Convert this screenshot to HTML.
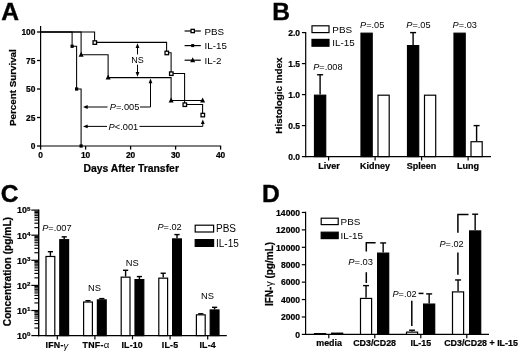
<!DOCTYPE html>
<html lang="en"><head><meta charset="utf-8"><title>Figure</title>
<style>
html,body{margin:0;padding:0;background:#fff;}
body{width:520px;height:352px;overflow:hidden;}
svg{display:block;font-family:"Liberation Sans",Arial,Helvetica,sans-serif;}
svg text{fill:#000;stroke:none;}
svg text[font-weight="bold"]{stroke:#000;stroke-width:0.22px;}
svg text tspan.g{stroke:none;font-weight:normal;}
</style></head><body>
<svg width="520" height="352" viewBox="0 0 520 352">
<rect x="0" y="0" width="520" height="352" fill="#fff" stroke="none"/>
<defs><filter id="soft" x="0" y="0" width="520" height="352" filterUnits="userSpaceOnUse"><feGaussianBlur stdDeviation="0.3"/></filter></defs>
<g stroke="#000" filter="url(#soft)">
<text x="1.20" y="19.50" font-size="24.6" font-weight="bold" text-anchor="start" style="stroke:#000;stroke-width:0.4">A</text>
<text x="272.30" y="19.50" font-size="24.6" font-weight="bold" text-anchor="start" style="stroke:#000;stroke-width:0.4">B</text>
<text x="0.70" y="202.40" font-size="24.6" font-weight="bold" text-anchor="start" style="stroke:#000;stroke-width:0.4">C</text>
<text x="262.00" y="202.40" font-size="24.6" font-weight="bold" text-anchor="start" style="stroke:#000;stroke-width:0.4">D</text>
<line x1="40.60" y1="26.00" x2="40.60" y2="146.60" stroke-width="1.2" />
<line x1="40.00" y1="146.00" x2="221.20" y2="146.00" stroke-width="1.2" />
<line x1="37.00" y1="146.00" x2="40.60" y2="146.00" stroke-width="1.3" />
<text x="35.40" y="149.00" font-size="8.4" font-weight="bold" text-anchor="end" >0</text>
<line x1="37.00" y1="117.50" x2="40.60" y2="117.50" stroke-width="1.3" />
<text x="35.40" y="120.50" font-size="8.4" font-weight="bold" text-anchor="end" >25</text>
<line x1="37.00" y1="89.00" x2="40.60" y2="89.00" stroke-width="1.3" />
<text x="35.40" y="92.00" font-size="8.4" font-weight="bold" text-anchor="end" >50</text>
<line x1="37.00" y1="60.50" x2="40.60" y2="60.50" stroke-width="1.3" />
<text x="35.40" y="63.50" font-size="8.4" font-weight="bold" text-anchor="end" >75</text>
<line x1="37.00" y1="32.00" x2="40.60" y2="32.00" stroke-width="1.3" />
<text x="35.40" y="35.00" font-size="8.4" font-weight="bold" text-anchor="end" >100</text>
<line x1="40.60" y1="146.00" x2="40.60" y2="149.60" stroke-width="1.3" />
<text x="40.60" y="158.30" font-size="8.4" font-weight="bold" text-anchor="middle" >0</text>
<line x1="85.60" y1="146.00" x2="85.60" y2="149.60" stroke-width="1.3" />
<text x="85.60" y="158.30" font-size="8.4" font-weight="bold" text-anchor="middle" >10</text>
<line x1="130.60" y1="146.00" x2="130.60" y2="149.60" stroke-width="1.3" />
<text x="130.60" y="158.30" font-size="8.4" font-weight="bold" text-anchor="middle" >20</text>
<line x1="175.60" y1="146.00" x2="175.60" y2="149.60" stroke-width="1.3" />
<text x="175.60" y="158.30" font-size="8.4" font-weight="bold" text-anchor="middle" >30</text>
<line x1="220.60" y1="146.00" x2="220.60" y2="149.60" stroke-width="1.3" />
<text x="220.60" y="158.30" font-size="8.4" font-weight="bold" text-anchor="middle" >40</text>
<text x="131.20" y="172.40" font-size="10.4" font-weight="bold" text-anchor="middle" >Days After Transfer</text>
<text transform="translate(15.90,87.60) rotate(-90)" font-size="9.8" font-weight="bold" text-anchor="middle">Percent Survival</text>
<path d="M40.60 32.00 H81.10 V54.80 H108.10 V77.60 H171.10 V100.40 H202.60 V100.40" stroke-width="1.05" fill="none" />
<path d="M40.60 32.00 H72.10 V46.25 H76.60 V89.00 H81.10 V146.00" stroke-width="1.05" fill="none" />
<path d="M40.60 32.00 H94.60 V42.37 H166.60 V52.75 H171.10 V73.50 H184.60 V104.50 H202.60 V114.88" stroke-width="1.05" fill="none" />
<path d="M81.10 51.80 L83.60 56.80 L78.60 56.80 Z" fill="#000" stroke="none"/>
<path d="M108.10 74.60 L110.60 79.60 L105.60 79.60 Z" fill="#000" stroke="none"/>
<path d="M171.10 97.40 L173.60 102.40 L168.60 102.40 Z" fill="#000" stroke="none"/>
<path d="M202.60 97.40 L205.10 102.40 L200.10 102.40 Z" fill="#000" stroke="none"/>
<rect x="71.00" y="45.15" width="2.2" height="2.2" fill="#000" stroke="#000" stroke-width="1"/>
<rect x="75.50" y="87.90" width="2.2" height="2.2" fill="#000" stroke="#000" stroke-width="1"/>
<rect x="80.00" y="144.90" width="2.2" height="2.2" fill="#000" stroke="#000" stroke-width="1"/>
<rect x="93.05" y="40.82" width="3.5" height="3.5" fill="#fff" stroke="#000" stroke-width="1.3"/>
<rect x="165.05" y="51.20" width="3.5" height="3.5" fill="#fff" stroke="#000" stroke-width="1.3"/>
<rect x="169.55" y="71.95" width="3.5" height="3.5" fill="#fff" stroke="#000" stroke-width="1.3"/>
<rect x="183.05" y="102.95" width="3.5" height="3.5" fill="#fff" stroke="#000" stroke-width="1.3"/>
<rect x="201.05" y="113.33" width="3.5" height="3.5" fill="#fff" stroke="#000" stroke-width="1.3"/>
<line x1="184.60" y1="31.00" x2="200.80" y2="31.00" stroke-width="1.2" />
<rect x="191.05" y="29.35" width="3.3" height="3.3" fill="#fff" stroke="#000" stroke-width="1.3"/>
<text x="204.50" y="34.50" font-size="9.8" font-weight="normal" text-anchor="start" >PBS</text>
<line x1="184.60" y1="45.60" x2="200.80" y2="45.60" stroke-width="1.2" />
<rect x="191.70" y="44.60" width="2.0" height="2.0" fill="#000" stroke="#000" stroke-width="1"/>
<text x="204.50" y="49.10" font-size="9.8" font-weight="normal" text-anchor="start" >IL-15</text>
<line x1="184.60" y1="60.20" x2="200.80" y2="60.20" stroke-width="1.2" />
<path d="M192.70 57.20 L195.20 62.20 L190.20 62.20 Z" fill="#000" stroke="none"/>
<text x="204.50" y="63.70" font-size="9.8" font-weight="normal" text-anchor="start" >IL-2</text>
<line x1="137.50" y1="45.00" x2="137.50" y2="54.40" stroke-width="1.0" />
<path d="M137.5 43.2 L135.6 47.900000000000006 L139.4 47.900000000000006 Z" fill="#000" stroke="none"/>
<line x1="137.50" y1="64.70" x2="137.50" y2="75.00" stroke-width="1.0" />
<path d="M137.5 76.8 L135.6 72.1 L139.4 72.1 Z" fill="#000" stroke="none"/>
<text x="137.50" y="62.70" font-size="9.0" font-weight="normal" text-anchor="middle" >NS</text>
<line x1="85.00" y1="107.00" x2="107.50" y2="107.00" stroke-width="1.0" />
<path d="M83.0 107.0 L87.7 105.1 L87.7 108.9 Z" fill="#000" stroke="none"/>
<text x="109.80" y="110.30" font-size="9.25" font-weight="normal" text-anchor="start"><tspan font-style="italic">P</tspan>=.005</text>
<path d="M140 107 H150.5 V81" stroke-width="1.0" fill="none" />
<path d="M150.5 78.6 L148.6 83.3 L152.4 83.3 Z" fill="#000" stroke="none"/>
<line x1="85.00" y1="126.40" x2="107.00" y2="126.40" stroke-width="1.0" />
<path d="M83.0 126.4 L87.7 124.5 L87.7 128.3 Z" fill="#000" stroke="none"/>
<text x="108.60" y="129.70" font-size="9.25" font-weight="normal" text-anchor="start"><tspan font-style="italic">P</tspan>&lt;.001</text>
<path d="M139.5 126.4 H202.8 V122" stroke-width="1.0" fill="none" />
<path d="M202.8 119.4 L200.9 124.10000000000001 L204.70000000000002 124.10000000000001 Z" fill="#000" stroke="none"/>
<line x1="305.70" y1="32.00" x2="305.70" y2="157.20" stroke-width="1.2" />
<line x1="305.10" y1="156.60" x2="491.00" y2="156.60" stroke-width="1.2" />
<line x1="301.90" y1="156.60" x2="305.70" y2="156.60" stroke-width="1.2" />
<text x="300.10" y="159.60" font-size="8.5" font-weight="bold" text-anchor="end" >0.0</text>
<line x1="301.90" y1="125.60" x2="305.70" y2="125.60" stroke-width="1.2" />
<text x="300.10" y="128.60" font-size="8.5" font-weight="bold" text-anchor="end" >0.5</text>
<line x1="301.90" y1="94.60" x2="305.70" y2="94.60" stroke-width="1.2" />
<text x="300.10" y="97.60" font-size="8.5" font-weight="bold" text-anchor="end" >1.0</text>
<line x1="301.90" y1="63.60" x2="305.70" y2="63.60" stroke-width="1.2" />
<text x="300.10" y="66.60" font-size="8.5" font-weight="bold" text-anchor="end" >1.5</text>
<line x1="301.90" y1="32.60" x2="305.70" y2="32.60" stroke-width="1.2" />
<text x="300.10" y="35.60" font-size="8.5" font-weight="bold" text-anchor="end" >2.0</text>
<text transform="translate(281.90,95.60) rotate(-90)" font-size="9.9" font-weight="bold" text-anchor="middle">Histologic Index</text>
<line x1="320.10" y1="94.60" x2="320.10" y2="74.76" stroke-width="1.4" />
<line x1="317.10" y1="74.76" x2="323.10" y2="74.76" stroke-width="1.4" />
<rect x="314.50" y="95.20" width="11.20" height="61.40" fill="#000" stroke="#000" stroke-width="1.2"/>
<line x1="328.60" y1="156.60" x2="328.60" y2="160.40" stroke-width="1.2" />
<text x="328.90" y="168.80" font-size="9.0" font-weight="bold" text-anchor="middle" >Liver</text>
<rect x="361.00" y="33.20" width="11.20" height="123.40" fill="#000" stroke="#000" stroke-width="1.2"/>
<rect x="378.00" y="95.20" width="11.20" height="61.40" fill="#fff" stroke="#000" stroke-width="1.2"/>
<line x1="375.10" y1="156.60" x2="375.10" y2="160.40" stroke-width="1.2" />
<text x="375.10" y="168.80" font-size="9.0" font-weight="bold" text-anchor="middle" >Kidney</text>
<line x1="413.10" y1="45.00" x2="413.10" y2="32.60" stroke-width="1.4" />
<line x1="410.10" y1="32.60" x2="416.10" y2="32.60" stroke-width="1.4" />
<rect x="407.50" y="45.60" width="11.20" height="111.00" fill="#000" stroke="#000" stroke-width="1.2"/>
<rect x="424.50" y="95.20" width="11.20" height="61.40" fill="#fff" stroke="#000" stroke-width="1.2"/>
<line x1="421.60" y1="156.60" x2="421.60" y2="160.40" stroke-width="1.2" />
<text x="421.60" y="168.80" font-size="9.0" font-weight="bold" text-anchor="middle" >Spleen</text>
<line x1="476.60" y1="141.10" x2="476.60" y2="125.60" stroke-width="1.4" />
<line x1="473.60" y1="125.60" x2="479.60" y2="125.60" stroke-width="1.4" />
<rect x="454.00" y="33.20" width="11.20" height="123.40" fill="#000" stroke="#000" stroke-width="1.2"/>
<rect x="471.00" y="141.70" width="11.20" height="14.90" fill="#fff" stroke="#000" stroke-width="1.2"/>
<line x1="468.10" y1="156.60" x2="468.10" y2="160.40" stroke-width="1.2" />
<text x="468.10" y="168.80" font-size="9.0" font-weight="bold" text-anchor="middle" >Lung</text>
<text x="313.20" y="70.00" font-size="9.2" font-weight="normal" text-anchor="start"><tspan font-style="italic">P</tspan>=.008</text>
<text x="360.00" y="28.00" font-size="9.2" font-weight="normal" text-anchor="start"><tspan font-style="italic">P</tspan>=.05</text>
<text x="406.30" y="28.00" font-size="9.2" font-weight="normal" text-anchor="start"><tspan font-style="italic">P</tspan>=.05</text>
<text x="452.60" y="28.00" font-size="9.2" font-weight="normal" text-anchor="start"><tspan font-style="italic">P</tspan>=.03</text>
<rect x="312.00" y="25.80" width="17.00" height="6.80" fill="#fff" stroke="#000" stroke-width="1.2"/>
<text x="332.30" y="32.50" font-size="9.9" font-weight="normal" text-anchor="start" >PBS</text>
<rect x="312.00" y="39.40" width="17.00" height="6.80" fill="#000" stroke="#000" stroke-width="1.2"/>
<text x="332.30" y="46.40" font-size="9.9" font-weight="normal" text-anchor="start" >IL-15</text>
<line x1="38.70" y1="209.50" x2="38.70" y2="336.20" stroke-width="1.4" />
<line x1="38.00" y1="335.60" x2="226.80" y2="335.60" stroke-width="1.2" />
<line x1="31.30" y1="335.60" x2="38.70" y2="335.60" stroke-width="1.2" />
<text x="30.40" y="338.90" font-size="8.9" font-weight="bold" text-anchor="end">10<tspan font-size="6.2" dy="-2.9">0</tspan></text>
<line x1="34.40" y1="328.04" x2="38.70" y2="328.04" stroke-width="1.15" />
<line x1="34.40" y1="323.62" x2="38.70" y2="323.62" stroke-width="1.15" />
<line x1="34.40" y1="320.49" x2="38.70" y2="320.49" stroke-width="1.15" />
<line x1="34.40" y1="318.06" x2="38.70" y2="318.06" stroke-width="1.15" />
<line x1="34.40" y1="316.07" x2="38.70" y2="316.07" stroke-width="1.15" />
<line x1="34.40" y1="314.39" x2="38.70" y2="314.39" stroke-width="1.15" />
<line x1="34.40" y1="312.93" x2="38.70" y2="312.93" stroke-width="1.15" />
<line x1="34.40" y1="311.65" x2="38.70" y2="311.65" stroke-width="1.15" />
<line x1="31.30" y1="310.50" x2="38.70" y2="310.50" stroke-width="1.2" />
<text x="30.40" y="313.80" font-size="8.9" font-weight="bold" text-anchor="end">10<tspan font-size="6.2" dy="-2.9">1</tspan></text>
<line x1="34.40" y1="302.94" x2="38.70" y2="302.94" stroke-width="1.15" />
<line x1="34.40" y1="298.52" x2="38.70" y2="298.52" stroke-width="1.15" />
<line x1="34.40" y1="295.39" x2="38.70" y2="295.39" stroke-width="1.15" />
<line x1="34.40" y1="292.96" x2="38.70" y2="292.96" stroke-width="1.15" />
<line x1="34.40" y1="290.97" x2="38.70" y2="290.97" stroke-width="1.15" />
<line x1="34.40" y1="289.29" x2="38.70" y2="289.29" stroke-width="1.15" />
<line x1="34.40" y1="287.83" x2="38.70" y2="287.83" stroke-width="1.15" />
<line x1="34.40" y1="286.55" x2="38.70" y2="286.55" stroke-width="1.15" />
<line x1="31.30" y1="285.40" x2="38.70" y2="285.40" stroke-width="1.2" />
<text x="30.40" y="288.70" font-size="8.9" font-weight="bold" text-anchor="end">10<tspan font-size="6.2" dy="-2.9">2</tspan></text>
<line x1="34.40" y1="277.84" x2="38.70" y2="277.84" stroke-width="1.15" />
<line x1="34.40" y1="273.42" x2="38.70" y2="273.42" stroke-width="1.15" />
<line x1="34.40" y1="270.29" x2="38.70" y2="270.29" stroke-width="1.15" />
<line x1="34.40" y1="267.86" x2="38.70" y2="267.86" stroke-width="1.15" />
<line x1="34.40" y1="265.87" x2="38.70" y2="265.87" stroke-width="1.15" />
<line x1="34.40" y1="264.19" x2="38.70" y2="264.19" stroke-width="1.15" />
<line x1="34.40" y1="262.73" x2="38.70" y2="262.73" stroke-width="1.15" />
<line x1="34.40" y1="261.45" x2="38.70" y2="261.45" stroke-width="1.15" />
<line x1="31.30" y1="260.30" x2="38.70" y2="260.30" stroke-width="1.2" />
<text x="30.40" y="263.60" font-size="8.9" font-weight="bold" text-anchor="end">10<tspan font-size="6.2" dy="-2.9">3</tspan></text>
<line x1="34.40" y1="252.74" x2="38.70" y2="252.74" stroke-width="1.15" />
<line x1="34.40" y1="248.32" x2="38.70" y2="248.32" stroke-width="1.15" />
<line x1="34.40" y1="245.19" x2="38.70" y2="245.19" stroke-width="1.15" />
<line x1="34.40" y1="242.76" x2="38.70" y2="242.76" stroke-width="1.15" />
<line x1="34.40" y1="240.77" x2="38.70" y2="240.77" stroke-width="1.15" />
<line x1="34.40" y1="239.09" x2="38.70" y2="239.09" stroke-width="1.15" />
<line x1="34.40" y1="237.63" x2="38.70" y2="237.63" stroke-width="1.15" />
<line x1="34.40" y1="236.35" x2="38.70" y2="236.35" stroke-width="1.15" />
<line x1="31.30" y1="235.20" x2="38.70" y2="235.20" stroke-width="1.2" />
<text x="30.40" y="238.50" font-size="8.9" font-weight="bold" text-anchor="end">10<tspan font-size="6.2" dy="-2.9">4</tspan></text>
<line x1="34.40" y1="227.64" x2="38.70" y2="227.64" stroke-width="1.15" />
<line x1="34.40" y1="223.22" x2="38.70" y2="223.22" stroke-width="1.15" />
<line x1="34.40" y1="220.09" x2="38.70" y2="220.09" stroke-width="1.15" />
<line x1="34.40" y1="217.66" x2="38.70" y2="217.66" stroke-width="1.15" />
<line x1="34.40" y1="215.67" x2="38.70" y2="215.67" stroke-width="1.15" />
<line x1="34.40" y1="213.99" x2="38.70" y2="213.99" stroke-width="1.15" />
<line x1="34.40" y1="212.53" x2="38.70" y2="212.53" stroke-width="1.15" />
<line x1="34.40" y1="211.25" x2="38.70" y2="211.25" stroke-width="1.15" />
<line x1="31.30" y1="210.10" x2="38.70" y2="210.10" stroke-width="1.2" />
<text x="30.40" y="213.40" font-size="8.9" font-weight="bold" text-anchor="end">10<tspan font-size="6.2" dy="-2.9">5</tspan></text>
<text transform="translate(11.20,271.60) rotate(-90)" font-size="10.2" font-weight="bold" text-anchor="middle">Concentration (pg/mL)</text>
<line x1="50.40" y1="255.88" x2="50.40" y2="251.71" stroke-width="1.4" />
<line x1="47.80" y1="251.71" x2="53.00" y2="251.71" stroke-width="1.4" />
<line x1="64.20" y1="239.09" x2="64.20" y2="236.84" stroke-width="1.4" />
<line x1="61.60" y1="236.84" x2="66.80" y2="236.84" stroke-width="1.4" />
<rect x="46.00" y="256.48" width="8.80" height="79.12" fill="#fff" stroke="#000" stroke-width="1.2"/>
<rect x="59.80" y="239.69" width="8.80" height="95.91" fill="#000" stroke="#000" stroke-width="1.2"/>
<line x1="57.30" y1="335.60" x2="57.30" y2="339.40" stroke-width="1.2" />
<text x="45.50" y="348.20" font-size="8.8" font-weight="bold" text-anchor="start" letter-spacing="0.25">IFN-<tspan class="g" font-size="9.5" font-style="italic" dy="0.8">&#947;</tspan></text>
<line x1="88.00" y1="301.42" x2="88.00" y2="300.69" stroke-width="1.4" />
<line x1="85.40" y1="300.69" x2="90.60" y2="300.69" stroke-width="1.4" />
<line x1="101.80" y1="299.28" x2="101.80" y2="298.60" stroke-width="1.4" />
<line x1="99.20" y1="298.60" x2="104.40" y2="298.60" stroke-width="1.4" />
<rect x="83.60" y="302.02" width="8.80" height="33.58" fill="#fff" stroke="#000" stroke-width="1.2"/>
<rect x="97.40" y="299.88" width="8.80" height="35.72" fill="#000" stroke="#000" stroke-width="1.2"/>
<line x1="94.90" y1="335.60" x2="94.90" y2="339.40" stroke-width="1.2" />
<text x="82.60" y="348.20" font-size="8.8" font-weight="bold" text-anchor="start" letter-spacing="0.25">TNF-<tspan class="g" font-size="9.6" dy="0.2">&#945;</tspan></text>
<line x1="125.60" y1="276.56" x2="125.60" y2="270.29" stroke-width="1.4" />
<line x1="123.00" y1="270.29" x2="128.20" y2="270.29" stroke-width="1.4" />
<line x1="139.40" y1="278.99" x2="139.40" y2="276.56" stroke-width="1.4" />
<line x1="136.80" y1="276.56" x2="142.00" y2="276.56" stroke-width="1.4" />
<rect x="121.20" y="277.16" width="8.80" height="58.44" fill="#fff" stroke="#000" stroke-width="1.2"/>
<rect x="135.00" y="279.59" width="8.80" height="56.01" fill="#000" stroke="#000" stroke-width="1.2"/>
<line x1="132.50" y1="335.60" x2="132.50" y2="339.40" stroke-width="1.2" />
<text x="132.20" y="348.20" font-size="8.8" font-weight="bold" text-anchor="middle" letter-spacing="0.2">IL-10</text>
<line x1="163.20" y1="277.57" x2="163.20" y2="273.24" stroke-width="1.4" />
<line x1="160.60" y1="273.24" x2="165.80" y2="273.24" stroke-width="1.4" />
<line x1="177.00" y1="238.31" x2="177.00" y2="234.60" stroke-width="1.4" />
<line x1="174.40" y1="234.60" x2="179.60" y2="234.60" stroke-width="1.4" />
<rect x="158.80" y="278.17" width="8.80" height="57.43" fill="#fff" stroke="#000" stroke-width="1.2"/>
<rect x="172.60" y="238.91" width="8.80" height="96.69" fill="#000" stroke="#000" stroke-width="1.2"/>
<line x1="170.10" y1="335.60" x2="170.10" y2="339.40" stroke-width="1.2" />
<text x="170.10" y="348.20" font-size="8.8" font-weight="bold" text-anchor="middle" letter-spacing="0.2">IL-5</text>
<line x1="200.80" y1="314.23" x2="200.80" y2="313.78" stroke-width="1.4" />
<line x1="198.20" y1="313.78" x2="203.40" y2="313.78" stroke-width="1.4" />
<line x1="214.60" y1="309.36" x2="214.60" y2="307.31" stroke-width="1.4" />
<line x1="212.00" y1="307.31" x2="217.20" y2="307.31" stroke-width="1.4" />
<rect x="196.40" y="314.83" width="8.80" height="20.77" fill="#fff" stroke="#000" stroke-width="1.2"/>
<rect x="210.20" y="309.96" width="8.80" height="25.64" fill="#000" stroke="#000" stroke-width="1.2"/>
<line x1="207.70" y1="335.60" x2="207.70" y2="339.40" stroke-width="1.2" />
<text x="207.70" y="348.20" font-size="8.8" font-weight="bold" text-anchor="middle" letter-spacing="0.2">IL-4</text>
<text x="42.20" y="230.80" font-size="9.2" font-weight="normal" text-anchor="start"><tspan font-style="italic">P</tspan>=.007</text>
<text x="157.40" y="230.40" font-size="9.2" font-weight="normal" text-anchor="start"><tspan font-style="italic">P</tspan>=.02</text>
<text x="94.50" y="291.20" font-size="9.3" font-weight="normal" text-anchor="middle" >NS</text>
<text x="132.20" y="265.70" font-size="9.3" font-weight="normal" text-anchor="middle" >NS</text>
<text x="207.40" y="298.70" font-size="9.3" font-weight="normal" text-anchor="middle" >NS</text>
<rect x="195.20" y="225.20" width="18.40" height="6.80" fill="#fff" stroke="#000" stroke-width="1.2"/>
<text x="216.00" y="232.20" font-size="10.0" font-weight="normal" text-anchor="start" >PBS</text>
<rect x="195.20" y="239.60" width="18.40" height="6.80" fill="#000" stroke="#000" stroke-width="1.2"/>
<text x="216.00" y="246.60" font-size="10.0" font-weight="normal" text-anchor="start" >IL-15</text>
<line x1="305.60" y1="211.86" x2="305.60" y2="335.00" stroke-width="1.2" />
<line x1="305.00" y1="334.40" x2="489.00" y2="334.40" stroke-width="1.2" />
<line x1="301.80" y1="334.40" x2="305.60" y2="334.40" stroke-width="1.2" />
<text x="300.00" y="337.65" font-size="8.6" font-weight="bold" text-anchor="end" >0</text>
<line x1="301.80" y1="316.98" x2="305.60" y2="316.98" stroke-width="1.2" />
<text x="300.00" y="320.23" font-size="8.6" font-weight="bold" text-anchor="end" >2000</text>
<line x1="301.80" y1="299.56" x2="305.60" y2="299.56" stroke-width="1.2" />
<text x="300.00" y="302.81" font-size="8.6" font-weight="bold" text-anchor="end" >4000</text>
<line x1="301.80" y1="282.14" x2="305.60" y2="282.14" stroke-width="1.2" />
<text x="300.00" y="285.39" font-size="8.6" font-weight="bold" text-anchor="end" >6000</text>
<line x1="301.80" y1="264.72" x2="305.60" y2="264.72" stroke-width="1.2" />
<text x="300.00" y="267.97" font-size="8.6" font-weight="bold" text-anchor="end" >8000</text>
<line x1="301.80" y1="247.30" x2="305.60" y2="247.30" stroke-width="1.2" />
<text x="300.00" y="250.55" font-size="8.6" font-weight="bold" text-anchor="end" >10000</text>
<line x1="301.80" y1="229.88" x2="305.60" y2="229.88" stroke-width="1.2" />
<text x="300.00" y="233.13" font-size="8.6" font-weight="bold" text-anchor="end" >12000</text>
<line x1="301.80" y1="212.46" x2="305.60" y2="212.46" stroke-width="1.2" />
<text x="300.00" y="215.71" font-size="8.6" font-weight="bold" text-anchor="end" >14000</text>
<text transform="translate(272.90,274.00) rotate(-90)" font-size="10" font-weight="bold" text-anchor="middle">IFN-<tspan class="g" font-size="10.5">&#947;</tspan> (pg/mL)</text>
<rect x="314.50" y="333.61" width="11.10" height="0.79" fill="#fff" stroke="#000" stroke-width="1.2"/>
<rect x="331.60" y="333.17" width="11.10" height="1.23" fill="#000" stroke="#000" stroke-width="1.2"/>
<line x1="328.80" y1="334.40" x2="328.80" y2="338.20" stroke-width="1.2" />
<text x="329.10" y="346.00" font-size="8.9" font-weight="bold" text-anchor="middle" >media</text>
<line x1="366.05" y1="297.82" x2="366.05" y2="285.62" stroke-width="1.4" />
<line x1="363.05" y1="285.62" x2="369.05" y2="285.62" stroke-width="1.4" />
<line x1="383.15" y1="252.53" x2="383.15" y2="242.94" stroke-width="1.4" />
<line x1="380.15" y1="242.94" x2="386.15" y2="242.94" stroke-width="1.4" />
<rect x="360.50" y="298.42" width="11.10" height="35.98" fill="#fff" stroke="#000" stroke-width="1.2"/>
<rect x="377.60" y="253.13" width="11.10" height="81.27" fill="#000" stroke="#000" stroke-width="1.2"/>
<line x1="374.80" y1="334.40" x2="374.80" y2="338.20" stroke-width="1.2" />
<text x="374.60" y="346.00" font-size="8.9" font-weight="bold" text-anchor="middle" >CD3/CD28</text>
<line x1="412.05" y1="331.53" x2="412.05" y2="330.22" stroke-width="1.4" />
<line x1="409.05" y1="330.22" x2="415.05" y2="330.22" stroke-width="1.4" />
<line x1="429.15" y1="303.48" x2="429.15" y2="293.90" stroke-width="1.4" />
<line x1="426.15" y1="293.90" x2="432.15" y2="293.90" stroke-width="1.4" />
<rect x="406.50" y="332.13" width="11.10" height="2.27" fill="#fff" stroke="#000" stroke-width="1.2"/>
<rect x="423.60" y="304.08" width="11.10" height="30.32" fill="#000" stroke="#000" stroke-width="1.2"/>
<line x1="420.80" y1="334.40" x2="420.80" y2="338.20" stroke-width="1.2" />
<text x="420.80" y="346.00" font-size="8.9" font-weight="bold" text-anchor="middle" >IL-15</text>
<line x1="458.05" y1="291.29" x2="458.05" y2="279.96" stroke-width="1.4" />
<line x1="455.05" y1="279.96" x2="461.05" y2="279.96" stroke-width="1.4" />
<line x1="475.15" y1="230.32" x2="475.15" y2="214.20" stroke-width="1.4" />
<line x1="472.15" y1="214.20" x2="478.15" y2="214.20" stroke-width="1.4" />
<rect x="452.50" y="291.89" width="11.10" height="42.51" fill="#fff" stroke="#000" stroke-width="1.2"/>
<rect x="469.60" y="230.92" width="11.10" height="103.48" fill="#000" stroke="#000" stroke-width="1.2"/>
<line x1="466.80" y1="334.40" x2="466.80" y2="338.20" stroke-width="1.2" />
<text x="481.00" y="346.00" font-size="8.9" font-weight="bold" text-anchor="middle" >CD3/CD28 + IL-15</text>
<path d="M375.6 242.8 H366.3 V251.6" stroke-width="1.5" fill="none" />
<line x1="366.30" y1="272.20" x2="366.30" y2="283.00" stroke-width="1.5" />
<text x="348.20" y="265.30" font-size="9.4" font-weight="normal" text-anchor="start"><tspan font-style="italic">P</tspan>=.03</text>
<text x="392.40" y="297.40" font-size="9.2" font-weight="normal" text-anchor="start"><tspan font-style="italic">P</tspan>=.02</text>
<line x1="418.60" y1="293.40" x2="423.50" y2="293.40" stroke-width="1.5" />
<line x1="411.80" y1="300.80" x2="411.80" y2="326.00" stroke-width="1.5" />
<path d="M468.5 214.4 H457.9 V232.8" stroke-width="1.5" fill="none" />
<line x1="457.90" y1="252.60" x2="457.90" y2="274.80" stroke-width="1.5" />
<text x="439.40" y="246.80" font-size="9.2" font-weight="normal" text-anchor="start"><tspan font-style="italic">P</tspan>=.02</text>
<rect x="321.20" y="218.20" width="17.00" height="6.40" fill="#fff" stroke="#000" stroke-width="1.2"/>
<text x="340.60" y="225.20" font-size="9.9" font-weight="normal" text-anchor="start" >PBS</text>
<rect x="321.20" y="232.20" width="17.00" height="6.40" fill="#000" stroke="#000" stroke-width="1.2"/>
<text x="340.60" y="239.20" font-size="9.9" font-weight="normal" text-anchor="start" >IL-15</text>
</g>
</svg>
</body></html>
